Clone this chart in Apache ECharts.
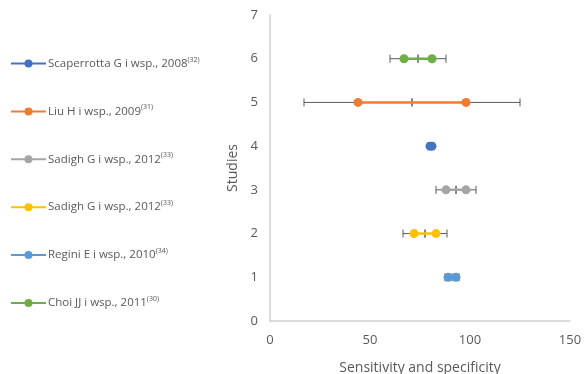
<!DOCTYPE html>
<html>
<head>
<meta charset="utf-8">
<script src="https://cdn.jsdelivr.net/npm/echarts@6/dist/echarts.min.js"></script>
<style>html,body{margin:0;padding:0;background:#fff}#c{width:584px;height:374px}</style>
</head>
<body>
<div id="c"></div>
<script>
// Data
const studyNames = ['Scaperrotta G i wsp., 2008', 'Liu H i wsp., 2009', 'Sadigh G i wsp., 2012', 'Sadigh G i wsp., 2012', 'Regini E i wsp., 2010', 'Choi JJ i wsp., 2011'];
const studyRefs = ['(32)', '(31)', '(33)', '(33)', '(34)', '(30)'];
const studyRow = [4, 5, 3, 2, 1, 6];
const sensitivity = [80, 44, 88, 72, 89, 67];
const specificity = [81, 98, 98, 83, 93, 81];
const errorMargin = [1, 27, 5, 5.5, 1.5, 7];
const xTicks = [0, 50, 100, 150];
const yTicks = [0, 1, 2, 3, 4, 5, 6, 7];

const colors = ['#4472C4', '#ED7D31', '#A5A5A5', '#FFC000', '#5B9BD5', '#70AD47'];
const FONT = '"Open Sans", "Noto Sans", sans-serif';

const keys = studyNames.map((n, i) => 'k' + i);
const keyMap = {};
keys.forEach((k, i) => keyMap[k] = i);

const series = [];
const errData = [];
studyNames.forEach((n, i) => {
  series.push({
    name: keys[i],
    type: 'line',
    data: [[sensitivity[i], studyRow[i]], [specificity[i], studyRow[i]]],
    symbol: 'circle',
    symbolSize: 9,
    lineStyle: { width: 2.5, color: colors[i] },
    itemStyle: { color: colors[i] },
    z: 3
  });
  errData.push([studyRow[i], sensitivity[i] - errorMargin[i], sensitivity[i] + errorMargin[i]]);
  errData.push([studyRow[i], specificity[i] - errorMargin[i], specificity[i] + errorMargin[i]]);
});

series.push({
  type: 'custom',
  name: 'err',
  z: 2,
  silent: true,
  data: errData,
  renderItem: function (params, api) {
    const y = api.value(0);
    const p1 = api.coord([api.value(1), y]);
    const p2 = api.coord([api.value(2), y]);
    const h = 4;
    const st = { stroke: '#5a5a5a', lineWidth: 1 };
    return {
      type: 'group',
      children: [
        { type: 'line', shape: { x1: p1[0], y1: p1[1], x2: p2[0], y2: p2[1] }, style: st },
        { type: 'line', shape: { x1: p1[0], y1: p1[1] - h, x2: p1[0], y2: p1[1] + h }, style: st },
        { type: 'line', shape: { x1: p2[0], y1: p2[1] - h, x2: p2[0], y2: p2[1] + h }, style: st }
      ]
    };
  }
});

const chart = echarts.init(document.getElementById('c'), null, { renderer: 'canvas' });
chart.setOption({
  animation: false,
  color: colors,
  textStyle: { fontFamily: FONT },
  grid: { left: 270, right: 14, top: 15, bottom: 53, containLabel: false, outerBoundsMode: 'none' },
  legend: {
    data: keys,
    orient: 'vertical',
    left: 10,
    top: 56,
    padding: 0,
    itemWidth: 35,
    itemHeight: 10,
    itemGap: 34.4,
    formatter: function (k) {
      const i = keyMap[k];
      return '{n|' + studyNames[i] + '}{s|' + studyRefs[i] + '}';
    },
    textStyle: {
      fontFamily: FONT,
      color: '#595959',
      padding: [0, 0, 0, -3],
      rich: {
        n: { fontSize: 11.5, color: '#595959', fontFamily: FONT, lineHeight: 15 },
        s: { fontSize: 7, color: '#595959', fontFamily: FONT, verticalAlign: 'top', lineHeight: 15, padding: [0, 0, 6, 0] }
      }
    }
  },
  xAxis: {
    type: 'value',
    min: 0, max: 150, interval: 50,
    name: 'Sensitivity and specificity',
    nameLocation: 'middle',
    nameGap: 40,
    nameTextStyle: { fontSize: 14, color: '#595959', fontFamily: FONT },
    axisLine: { show: true, lineStyle: { color: '#d0d0d0', width: 1.5 } },
    axisTick: { show: false },
    splitLine: { show: false },
    axisLabel: { fontSize: 13, color: '#595959', margin: 13, fontFamily: FONT }
  },
  yAxis: {
    type: 'value',
    min: 0, max: 7, interval: 1,
    name: 'Studies',
    nameLocation: 'middle',
    nameGap: 28,
    nameTextStyle: { fontSize: 14, color: '#595959', fontFamily: FONT },
    axisLine: { show: true, lineStyle: { color: '#d0d0d0', width: 1.5 } },
    axisTick: { show: false },
    splitLine: { show: false },
    axisLabel: { fontSize: 13, color: '#595959', margin: 12, fontFamily: FONT }
  },
  series: series
});
</script>
</body>
</html>
